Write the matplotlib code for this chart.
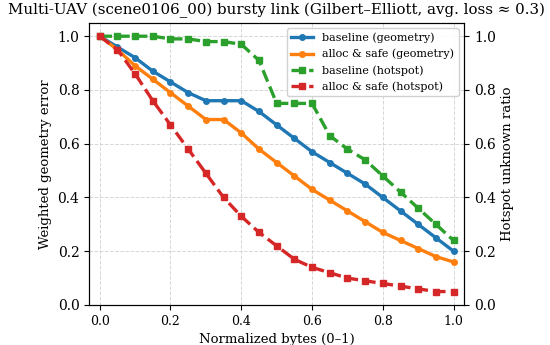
import matplotlib
matplotlib.use("Agg")
import matplotlib.pyplot as plt
import numpy as np

plt.rcParams['font.family'] = ['DejaVu Serif']

x = [0.0, 0.05, 0.1, 0.15, 0.2, 0.25, 0.3, 0.35, 0.4, 0.45, 0.5,
     0.55, 0.6, 0.65, 0.7, 0.75, 0.8, 0.85, 0.9, 0.95, 1.0]
baseline_geom = [1.0, 0.96, 0.92, 0.87, 0.83, 0.79, 0.76, 0.76, 0.76, 0.72, 0.67,
                 0.62, 0.57, 0.53, 0.49, 0.45, 0.40, 0.35, 0.30, 0.25, 0.20]
alloc_geom = [1.0, 0.95, 0.89, 0.84, 0.79, 0.74, 0.69, 0.69, 0.64, 0.58, 0.53,
              0.48, 0.43, 0.39, 0.35, 0.31, 0.27, 0.24, 0.21, 0.18, 0.16]
baseline_hot = [1.0, 1.0, 1.0, 1.0, 0.99, 0.99, 0.98, 0.98, 0.97, 0.91, 0.75,
                0.75, 0.75, 0.63, 0.58, 0.54, 0.48, 0.42, 0.36, 0.30, 0.24]
alloc_hot = [1.0, 0.95, 0.86, 0.76, 0.67, 0.58, 0.49, 0.40, 0.33, 0.27, 0.22,
             0.17, 0.14, 0.12, 0.10, 0.09, 0.08, 0.07, 0.06, 0.05, 0.05]

fig = plt.figure(figsize=(5.5, 3.45), dpi=100)
ax = fig.add_axes([0.162, 0.116, 0.682, 0.818])
ax2 = ax.twinx()

l1, = ax.plot(x, baseline_geom, '-o', color='#1f77b4', lw=2.4, ms=4, label='baseline (geometry)')
l2, = ax.plot(x, alloc_geom, '-o', color='#ff7f0e', lw=2.4, ms=4, label='alloc & safe (geometry)')
l3, = ax2.plot(x, baseline_hot, '--s', color='#2ca02c', lw=2.4, ms=4, label='baseline (hotspot)')
l4, = ax2.plot(x, alloc_hot, '--s', color='#d62728', lw=2.4, ms=4, label='alloc & safe (hotspot)')

for a in (ax, ax2):
    a.set_ylim(0, 1.05)
    a.set_yticks([0, 0.2, 0.4, 0.6, 0.8, 1.0])
    a.tick_params(labelsize=10)
ax.set_xlim(-0.03, 1.03)
ax.set_xticks([0, 0.2, 0.4, 0.6, 0.8, 1.0])
ax.tick_params(axis='x', labelsize=9)
ax.grid(True, linestyle='--', color='#cccccc', lw=0.7, alpha=0.8)

ax.set_xlabel('Normalized bytes (0–1)', fontsize=9.5)
ax.set_ylabel('Weighted geometry error', fontsize=9.5)
ax2.set_ylabel('Hotspot unknown ratio', fontsize=9.5)
ax.set_title('Multi-UAV (scene0106_00) bursty link (Gilbert–Elliott, avg. loss ≈ 0.3)', fontsize=10.8)

ax2.legend(handles=[l1, l2, l3, l4], loc='upper right', fontsize=8, framealpha=0.9)

fig.savefig('out.png', dpi=100)
